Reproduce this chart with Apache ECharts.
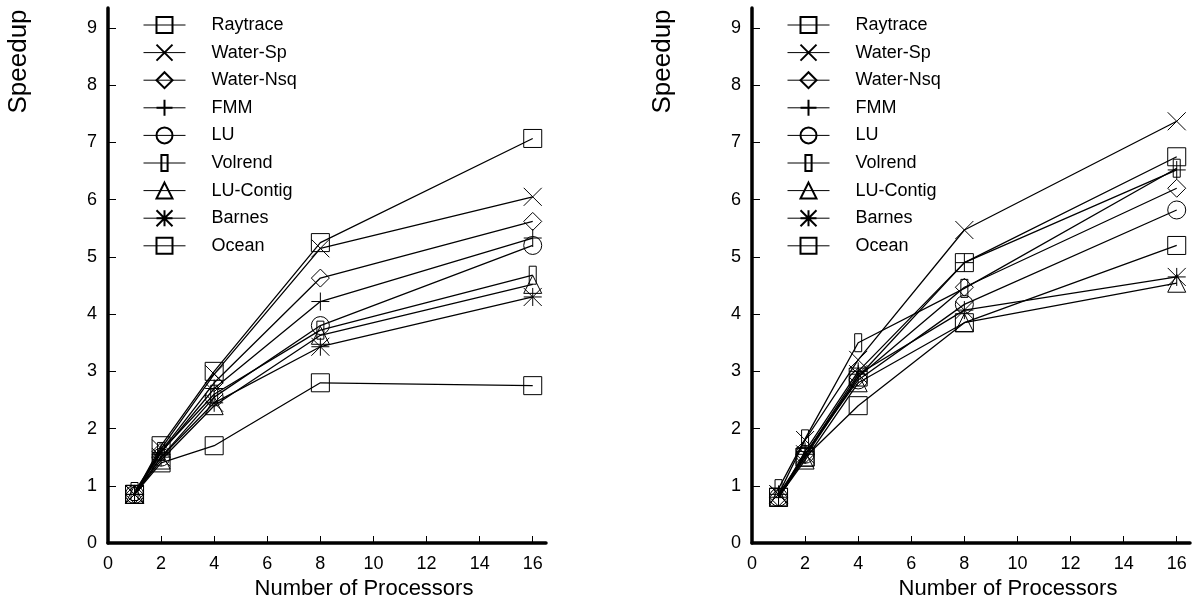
<!DOCTYPE html>
<html>
<head>
<meta charset="utf-8">
<script src="https://cdn.jsdelivr.net/npm/echarts@6/dist/echarts.min.js"></script>
<style>
  html, body { margin: 0; padding: 0; background: #fff; }
  #chart { width: 1200px; height: 615px; }
</style>
</head>
<body>
<div id="chart"></div>
<script>
// processor counts and speedups
var procs = [1, 2, 4, 8, 16];
var names = ['Raytrace', 'Water-Sp', 'Water-Nsq', 'FMM', 'LU', 'Volrend', 'LU-Contig', 'Barnes', 'Ocean'];

var leftRaytrace = [0.85, 1.7, 3.0, 5.25, 7.07];
var leftWaterSp = [0.85, 1.65, 2.95, 5.15, 6.05];
var leftWaterNsq = [0.85, 1.6, 2.8, 4.63, 5.62];
var leftFMM = [0.85, 1.58, 2.7, 4.22, 5.33];
var leftLU = [0.85, 1.5, 2.55, 3.8, 5.2];
var leftVolrend = [0.9, 1.6, 2.6, 3.72, 4.68];
var leftLUContig = [0.85, 1.45, 2.4, 3.63, 4.52];
var leftBarnes = [0.85, 1.5, 2.45, 3.43, 4.3];
var leftOcean = [0.85, 1.4, 1.7, 2.8, 2.75];

var rightRaytrace = [0.8, 1.5, 2.9, 4.9, 6.75];
var rightWaterSp = [0.85, 1.8, 3.2, 5.47, 7.37];
var rightWaterNsq = [0.8, 1.55, 2.9, 4.47, 6.2];
var rightFMM = [0.8, 1.6, 3.0, 4.9, 6.52];
var rightLU = [0.8, 1.55, 2.85, 4.17, 5.82];
var rightVolrend = [0.95, 1.82, 3.5, 4.45, 6.55];
var rightLUContig = [0.8, 1.45, 2.8, 3.85, 4.54];
var rightBarnes = [0.85, 1.55, 2.95, 4.07, 4.65];
var rightOcean = [0.8, 1.5, 2.4, 3.85, 5.2];

var xTicks = [0, 2, 4, 6, 8, 10, 12, 14, 16];
var yTicks = [0, 1, 2, 3, 4, 5, 6, 7, 8, 9];

var leftData = [leftRaytrace, leftWaterSp, leftWaterNsq, leftFMM, leftLU, leftVolrend, leftLUContig, leftBarnes, leftOcean];
var rightData = [rightRaytrace, rightWaterSp, rightWaterNsq, rightFMM, rightLU, rightVolrend, rightLUContig, rightBarnes, rightOcean];

// marker shapes, hollow, in an 18x18 box
var symbols = [
    'rect',
    'path://M0,0L18,18M18,0L0,18',
    'diamond',
    'path://M9,0L9,18M0,9L18,9',
    'circle',
    'path://M0,0M18,18M5.5,0L12.5,0L12.5,18L5.5,18Z',
    'triangle',
    'path://M0,0L18,18M18,0L0,18M9,0L9,18M0,9L18,9',
    'rect'
];

var font = '"Liberation Sans", Arial, sans-serif';

var myChart = echarts.init(document.getElementById('chart'));

function xAxis(idx) {
    return {
        type: 'value',
        gridIndex: idx,
        min: 0,
        max: 16.5,
        name: 'Number of Processors',
        nameLocation: 'middle',
        nameGap: 32,
        nameTextStyle: { color: '#000', fontSize: 22, fontFamily: font, padding: [0, 0, 0, 74] },
        axisLine: { lineStyle: { color: '#000', width: 3.5 } },
        axisTick: { inside: true, length: 7, customValues: xTicks, lineStyle: { color: '#000', width: 1 } },
        axisLabel: { customValues: xTicks, color: '#000', fontSize: 18, fontFamily: font, margin: 12 },
        splitLine: { show: false }
    };
}

function yAxis(idx) {
    return {
        type: 'value',
        gridIndex: idx,
        min: 0,
        max: 9.35,
        name: 'Speedup',
        nameLocation: 'middle',
        nameGap: 76,
        nameTextStyle: { color: '#000', fontSize: 26, fontFamily: font, padding: [0, 0, 0, 428] },
        axisLine: { show: true, lineStyle: { color: '#000', width: 3.5 } },
        axisTick: { show: true, inside: true, length: 8, customValues: yTicks, lineStyle: { color: '#000', width: 1 } },
        axisLabel: { customValues: yTicks, color: '#000', fontSize: 18, fontFamily: font, margin: 11 },
        splitLine: { show: false }
    };
}

function legend(left) {
    return {
        orient: 'vertical',
        left: left,
        top: 10,
        itemWidth: 42,
        itemHeight: 20,
        itemGap: 7.6,
        data: names,
        selectedMode: false,
        lineStyle: { width: 1 },
        textStyle: { color: '#000', fontSize: 18, fontFamily: font, lineHeight: 20, padding: [0, 0, 0, 21] }
    };
}

var series = [];
[leftData, rightData].forEach(function (set, g) {
    set.forEach(function (vals, i) {
        series.push({
            name: names[i],
            type: 'line',
            xAxisIndex: g,
            yAxisIndex: g,
            data: procs.map(function (p, k) { return [p, vals[k]]; }),
            symbol: symbols[i],
            symbolSize: 18,
            lineStyle: { color: '#000', width: 1.3 },
            itemStyle: { color: 'transparent', borderColor: '#000', borderWidth: 1 },
            emphasis: { disabled: true },
            animation: false
        });
    });
});

var option = {
    backgroundColor: '#fff',
    animation: false,
    grid: [
        { left: 108, top: 8, width: 438, bottom: 72 },
        { left: 752, top: 8, width: 438, bottom: 72 }
    ],
    legend: [legend(138), legend(782)],
    xAxis: [xAxis(0), xAxis(1)],
    yAxis: [yAxis(0), yAxis(1)],
    series: series
};

myChart.setOption(option);
window.addEventListener('resize', function () {
    myChart.resize();
});
</script>
</body>
</html>
